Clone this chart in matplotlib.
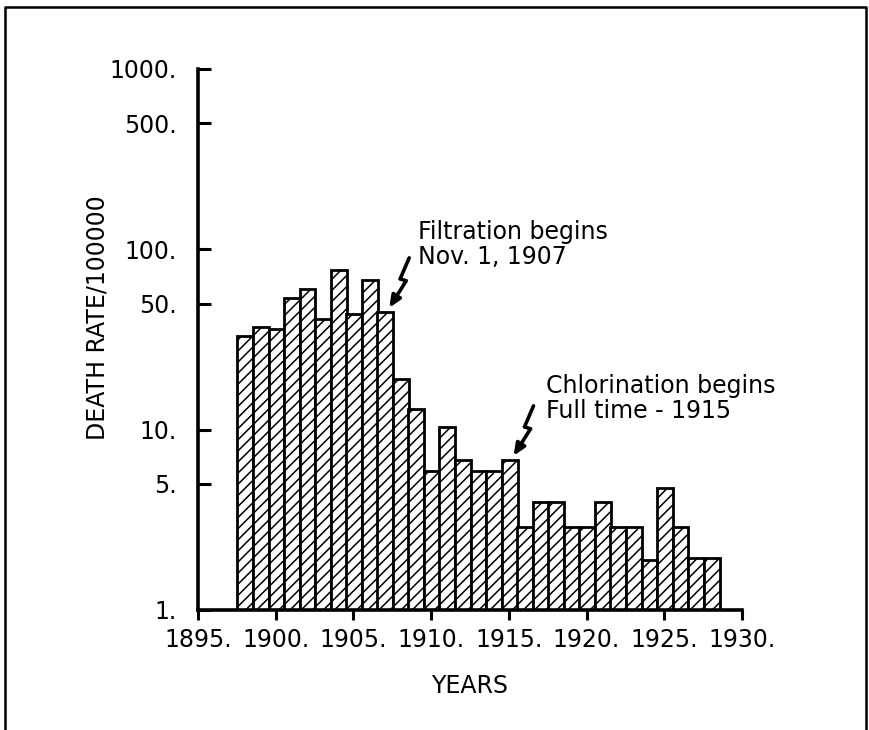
import matplotlib
matplotlib.use('Agg')
import matplotlib.pyplot as plt
from matplotlib.lines import Line2D
from matplotlib.ticker import FixedLocator, FixedFormatter, NullLocator

plt.rcParams['font.family'] = ['DejaVu Sans']
plt.rcParams['hatch.linewidth'] = 1.1

# 연도별 사망률 (per 100000)
years = [1898, 1899, 1900, 1901, 1902, 1903, 1904, 1905, 1906, 1907,
         1908, 1909, 1910, 1911, 1912, 1913, 1914, 1915, 1916, 1917,
         1918, 1919, 1920, 1921, 1922, 1923, 1924, 1925, 1926, 1927, 1928]
rates = [33, 37, 36, 54, 60, 41, 77, 44, 68, 45,
         19, 13, 5.9, 10.3, 6.8, 5.9, 5.9, 6.8, 2.9, 3.95,
         3.95, 2.9, 2.9, 3.95, 2.9, 2.9, 1.9, 4.75, 2.9, 1.94, 1.94]

y_ticks = [1, 5, 10, 50, 100, 500, 1000]
y_tick_labels = ['1.', '5.', '10.', '50.', '100.', '500.', '1000.']
x_ticks = [1895, 1900, 1905, 1910, 1915, 1920, 1925, 1930]
x_tick_labels = ['1895.', '1900.', '1905.', '1910.', '1915.', '1920.', '1925.', '1930.']

# 주석 (연도, 텍스트)
note_years = [1907, 1915]
note_texts = ['Filtration begins\nNov. 1, 1907', 'Chlorination begins\nFull time - 1915']
# 텍스트 위치 (화살 끝 기준 픽셀 오프셋)
note_offsets = [(29, 88), (32, 82)]

FS = 17
fig = plt.figure(figsize=(8.69, 7.30), dpi=100)
ax = fig.add_axes([0.2278, 0.1644, 0.6260, 0.7411])

bar_shift = 0.05
ax.bar([y + bar_shift for y in years], rates, width=1.02, color='white',
       edgecolor='black', linewidth=2.0, hatch='///')

ax.set_yscale('log')
ax.set_xlim(1895, 1930)
ax.set_ylim(1, 1000)

ax.yaxis.set_major_locator(FixedLocator(y_ticks))
ax.yaxis.set_major_formatter(FixedFormatter(y_tick_labels))
ax.yaxis.set_minor_locator(NullLocator())
ax.xaxis.set_major_locator(FixedLocator(x_ticks))
ax.xaxis.set_major_formatter(FixedFormatter(x_tick_labels))

ax.tick_params(axis='y', direction='in', length=9, width=2.2, pad=15, labelsize=FS)
ax.tick_params(axis='x', direction='out', length=7, width=2.2, pad=6, labelsize=FS)

for side in ['top', 'right']:
    ax.spines[side].set_visible(False)
for side in ['left', 'bottom']:
    ax.spines[side].set_linewidth(2.6)

ax.set_ylabel('DEATH RATE/100000', fontsize=FS)
ax.yaxis.set_label_coords(-0.162, 0.54)
ax.set_xlabel('YEARS', fontsize=FS, labelpad=16)

# 번개 모양 화살표 (픽셀 단위, 화살 끝 기준)
bolt = [(20, 50), (11, 29), (17, 27), (0, 0)]
for year, text, (ox, oy) in zip(note_years, note_texts, note_offsets):
    rate = rates[years.index(year)]
    bx, by = ax.transData.transform((year + bar_shift + 0.51, rate))
    tx, ty = bx - 4, by + 4
    pts = [(tx + dx, ty + dy) for dx, dy in bolt]
    for (x0, y0), (x1, y1) in zip(pts[:-2], pts[1:-1]):
        ax.annotate('', xy=(x1, y1), xytext=(x0, y0), xycoords='figure pixels',
                    textcoords='figure pixels',
                    arrowprops=dict(arrowstyle='-', lw=2.6, color='black',
                                    shrinkA=0, shrinkB=0))
    ax.annotate('', xy=pts[-1], xytext=pts[-2], xycoords='figure pixels',
                textcoords='figure pixels',
                arrowprops=dict(arrowstyle='-|>,head_length=0.7,head_width=0.3',
                                lw=2.6, color='black', shrinkA=0, shrinkB=0))
    ax.annotate(text, xy=(tx + ox, ty + oy), xycoords='figure pixels',
                ha='left', va='top', fontsize=FS, linespacing=1.05)

# 바깥 테두리
fig.add_artist(Line2D([0.006, 0.006, 0.996, 0.996], [0.0, 0.991, 0.991, 0.0],
                      transform=fig.transFigure, color='black', lw=1.8))

plt.savefig('out.png', dpi=100)
plt.close()
